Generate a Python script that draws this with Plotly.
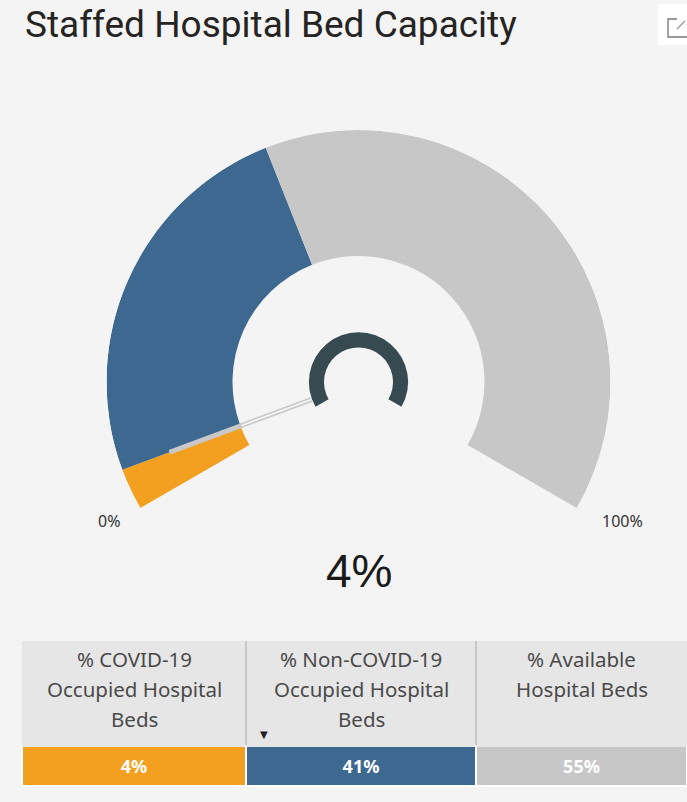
import plotly.graph_objects as go

# ---------------- data ----------------
title_text = "Staffed Hospital Bed Capacity"
column_labels = [["% COVID-19", "Occupied Hospital", "Beds"],
                 ["% Non-COVID-19", "Occupied Hospital", "Beds"],
                 ["% Available", "Hospital Beds"]]
shares = [4, 41, 55]                # table values (%)
band_start = [0, 4, 41]             # gauge bands (%)
band_end = [4, 41, 100]
needle_value = 4                    # needle / centre value (%)
gauge_min, gauge_max = 0, 100
min_label, max_label = "0%", "100%"

band_colors = ["#F39F1F", "#3D6890", "#C7C7C7"]
cell_colors = ["#F39F1F", "#3D6890", "#C7C7C7"]

# ---------------- layout helpers ----------------
W, H = 687, 802
cx, cy, R = 358.5, 382, 252
SWEEP = 240.0
BG = "#F4F4F4"
col_edges = [22, 246, 476, 687]


def th(v):
    return (v - gauge_min) / (gauge_max - gauge_min) * SWEEP


def px(x):
    return x / W


def py(y):
    return 1 - y / H


fig = go.Figure()

# gauge bands
for s, e, c in zip(band_start, band_end, band_colors):
    fig.add_trace(go.Barpolar(
        r=[0.5], base=[0.5], theta=[th((s + e) / 2)], width=[th(e) - th(s)],
        marker=dict(color=c, line=dict(width=0)),
        hoverinfo="skip", showlegend=False))

# dark centre ring
fig.add_trace(go.Barpolar(
    r=[0.06], base=[0.137], theta=[th((gauge_min + gauge_max) / 2)], width=[SWEEP],
    marker=dict(color="#364A4F", line=dict(width=0)),
    hoverinfo="skip", showlegend=False))

# needle
fig.add_trace(go.Scatterpolar(
    r=[0.2, 0.8], theta=[th(needle_value)] * 2, mode="lines",
    line=dict(color="#C9C9C9", width=5), hoverinfo="skip", showlegend=False))
fig.add_trace(go.Scatterpolar(
    r=[0.2, 0.495], theta=[th(needle_value)] * 2, mode="lines",
    line=dict(color="#F7F7F7", width=1.5), hoverinfo="skip", showlegend=False))

# table (header text placed as centred lines below)
fig.add_trace(go.Table(
    domain=dict(x=[px(22), 1], y=[0, py(641)]),
    columnwidth=[c1 - c0 for c0, c1 in zip(col_edges[:-1], col_edges[1:])],
    header=dict(values=[""] * len(column_labels), fill_color="#E6E6E6",
                line=dict(color="#E6E6E6", width=1),
                font=dict(family="Noto Sans", size=18, color="#444444"),
                height=105, align="center"),
    cells=dict(values=[[f"<b>{v}%</b>"] for v in shares],
               fill_color=[[c] for c in cell_colors],
               line=dict(color="#FFFFFF", width=1.5),
               font=dict(family="Noto Sans", size=18, color="#FFFFFF"),
               height=33, align="center"),
))

shapes = [
    dict(type="line", xref="paper", yref="paper", x0=px(246), x1=px(246),
         y0=py(641), y1=py(745), line=dict(color="#A8A8A8", width=1)),
    dict(type="line", xref="paper", yref="paper", x0=px(476), x1=px(476),
         y0=py(641), y1=py(745), line=dict(color="#A8A8A8", width=1)),
    # focus-mode icon
    dict(type="rect", xref="paper", yref="paper", x0=px(658), x1=px(687),
         y0=py(45), y1=py(4), fillcolor="#FFFFFF", line=dict(width=0)),
    dict(type="path", xref="paper", yref="paper",
         path=f"M {px(677)},{py(19)} L {px(668)},{py(19)} L {px(668)},{py(37)} L {px(687)},{py(37)}",
         line=dict(color="#777777", width=1.3)),
    dict(type="path", xref="paper", yref="paper",
         path=f"M {px(677)},{py(29)} L {px(685)},{py(21)}",
         line=dict(color="#999999", width=1.2)),
]

annotations = [
    dict(text=title_text, x=px(23), y=py(24), xref="paper", yref="paper",
         xanchor="left", yanchor="middle", showarrow=False,
         font=dict(family="Roboto", size=37, color="#252423")),
    dict(text=min_label, x=px(109), y=py(521), xref="paper", yref="paper",
         xanchor="center", yanchor="middle", showarrow=False,
         font=dict(family="Noto Sans", size=16, color="#333333")),
    dict(text=max_label, x=px(622), y=py(521), xref="paper", yref="paper",
         xanchor="center", yanchor="middle", showarrow=False,
         font=dict(family="Noto Sans", size=16, color="#333333")),
    dict(text=f"{needle_value}%", x=px(359), y=py(571), xref="paper", yref="paper",
         xanchor="center", yanchor="middle", showarrow=False,
         font=dict(family="Liberation Sans", size=46, color="#1A1A1A")),
    dict(text="▼", x=px(264), y=py(734), xref="paper", yref="paper",
         xanchor="center", yanchor="middle", showarrow=False,
         font=dict(family="DejaVu Sans", size=10, color="#222222")),
]

# header lines, centred per column
for i, lines in enumerate(column_labels):
    xc = (col_edges[i] + col_edges[i + 1]) / 2
    for j, line in enumerate(lines):
        annotations.append(dict(
            text=line, x=px(xc), y=py(659 + 30 * j), xref="paper", yref="paper",
            xanchor="center", yanchor="middle", showarrow=False,
            font=dict(family="Noto Sans", size=20.5, color="#4A4A4A")))

fig.update_layout(
    width=W, height=H, margin=dict(l=0, r=0, t=0, b=0),
    paper_bgcolor=BG, plot_bgcolor=BG, showlegend=False,
    polar=dict(
        domain=dict(x=[px(cx - R), px(cx + R)], y=[py(cy + R), py(cy - R)]),
        bgcolor="rgba(0,0,0,0)",
        radialaxis=dict(range=[0, 1], visible=False, showgrid=False),
        angularaxis=dict(visible=False, showgrid=False, rotation=210,
                         direction="clockwise", thetaunit="degrees"),
    ),
    shapes=shapes, annotations=annotations,
)

fig.write_html("out.html", config={"displayModeBar": False},
               post_script="document.body.style.margin='0px';"
                           "document.body.style.overflow='hidden';")
